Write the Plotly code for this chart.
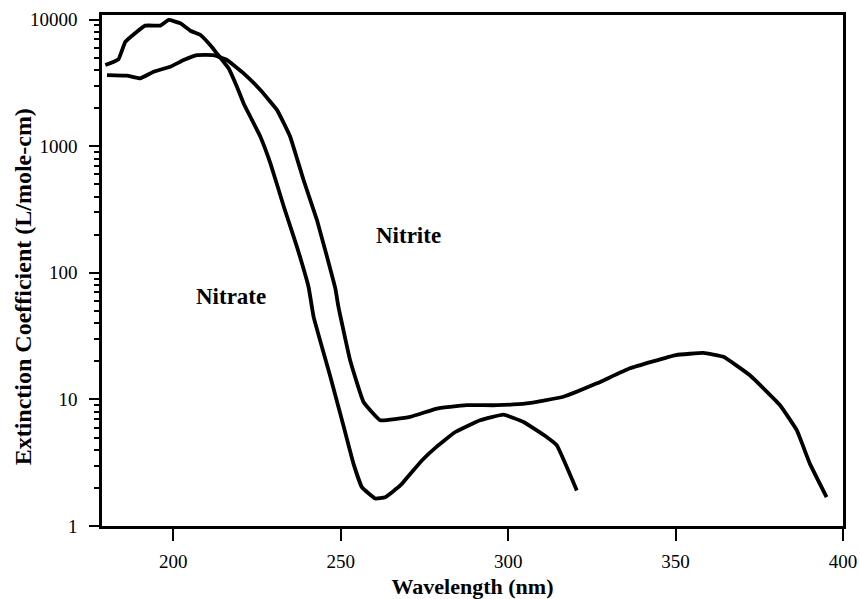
import math
import plotly.graph_objects as go

nitrate_wl = [179.7, 183.6, 185.7, 191.6, 196.1, 198.6, 202.1, 205.1, 208.1, 211.0, 213.0, 216.5,
              219.0, 221.0, 223.0, 226.0, 229.0, 233.0, 236.9, 240.4, 241.9, 246.9, 250.9, 253.8,
              256.3, 260.3, 263.3, 267.8, 274.3, 278.5, 284.2, 291.6, 298.6, 304.6, 311.5, 314.5, 320.5]
nitrate_eps = [4385, 4860, 6700, 8970, 8970, 9950, 9370, 8180, 7570, 6310, 5420, 4130,
               2950, 2180, 1710, 1190, 733, 333, 161, 77, 44.9, 15.1, 6.07, 3.11,
               2.03, 1.65, 1.69, 2.09, 3.31, 4.2, 5.53, 6.85, 7.59, 6.64, 5.05, 4.35, 1.91]

nitrite_wl = [180.2, 186.2, 190.1, 194.1, 199.1, 203.1, 207.1, 212.0, 216.0, 221.0, 226.0, 231.0,
              234.9, 238.9, 242.9, 245.9, 248.4, 249.3, 252.8, 256.8, 261.8, 270.7, 278.7, 282.7,
              287.6, 296.6, 305.5, 316.5, 326.5, 336.4, 350.1, 358.3, 364.3, 372.2, 381.2, 386.2,
              390.1, 395.1]
nitrite_eps = [3650, 3610, 3440, 3880, 4250, 4800, 5250, 5250, 4800, 3770, 2780, 1930,
               1190, 541, 261, 134, 75, 54, 20.4, 9.55, 6.85, 7.28, 8.47, 8.73,
               9.0, 9.0, 9.3, 10.5, 13.4, 17.6, 22.4, 23.3, 21.7, 15.5, 9.0, 5.71,
               3.11, 1.69]

x_ticks = [200, 250, 300, 350, 400]
y_ticks = [1, 10, 100, 1000, 10000]
y_tick_labels = ["1", "10", "100", "1000", "10000"]
y_minor_ticks = [m * d for d in [1, 10, 100, 1000] for m in range(2, 10)]

labels = ["Nitrite", "Nitrate"]
label_x = [270.3, 217.2]
label_y = [196, 64.6]

x_title = "Wavelength (nm)"
y_title = "Extinction Coefficient (L/mole-cm)"

fig = go.Figure()
line_style = dict(color="black", width=3.8, shape="spline", smoothing=0.3)
fig.add_trace(go.Scatter(x=nitrate_wl, y=nitrate_eps, mode="lines", line=line_style,
                         name="Nitrate", showlegend=False))
fig.add_trace(go.Scatter(x=nitrite_wl, y=nitrite_eps, mode="lines", line=line_style,
                         name="Nitrite", showlegend=False))

for t, lx, ly in zip(labels, label_x, label_y):
    fig.add_annotation(x=lx, y=math.log10(ly), text="<b>" + t + "</b>", showarrow=False,
                       font=dict(family="Liberation Serif", size=23, color="black"))

# y-axis title placed as a rotated annotation in the left margin
fig.add_annotation(xref="paper", yref="paper", x=-0.1066, y=0.467, xanchor="center",
                   yanchor="middle", textangle=-90, showarrow=False,
                   text="<b>" + y_title + "</b>",
                   font=dict(family="Liberation Serif", size=24, color="black"))

fig.update_layout(
    width=860, height=599,
    margin=dict(l=102, r=17, t=15, b=73),
    paper_bgcolor="white", plot_bgcolor="white",
    font=dict(family="Liberation Serif", color="black"),
)
fig.update_xaxes(
    range=[178.7, 400], tickvals=x_ticks, ticks="outside", ticklen=12, tickwidth=2,
    tickcolor="black", showline=True, linewidth=2.5, linecolor="black", mirror=True,
    showgrid=False, zeroline=False, automargin=False, ticklabelstandoff=4,
    tickfont=dict(size=19, family="Liberation Serif"),
    title=dict(text="<b>" + x_title + "</b>", font=dict(size=22, family="Liberation Serif")),
)
fig.update_yaxes(
    type="log", range=[0, 4.037], tickvals=y_ticks, ticktext=y_tick_labels,
    ticks="outside", ticklen=10, tickwidth=2, tickcolor="black",
    minor=dict(tickvals=y_minor_ticks, ticks="outside", ticklen=5, tickwidth=1.5,
               tickcolor="black", showgrid=False),
    showline=True, linewidth=2.5, linecolor="black", mirror=True,
    showgrid=False, zeroline=False, automargin=False, ticklabelstandoff=8,
    tickfont=dict(size=19, family="Liberation Serif"),
)

fig.write_html(
    "out.html",
    config={"displayModeBar": False},
    post_script="document.body.style.margin='0';document.body.style.overflow='hidden';",
)
